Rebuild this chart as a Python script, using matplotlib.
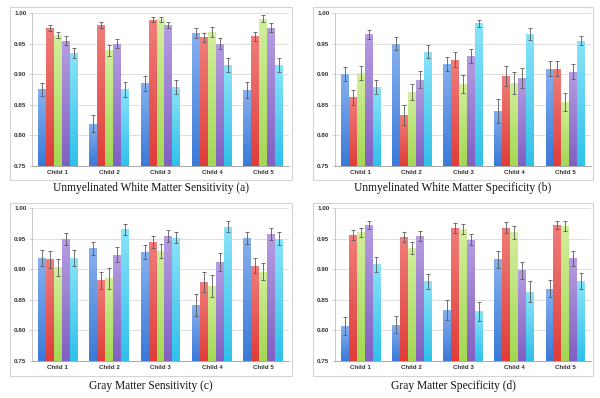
import numpy as np
import matplotlib
matplotlib.use("Agg")
import matplotlib.pyplot as plt
from matplotlib.patches import Rectangle
from matplotlib.colors import LinearSegmentedColormap

categories = ["Child 1", "Child 2", "Child 3", "Child 4", "Child 5"]
yticks = [0.75, 0.80, 0.85, 0.90, 0.95, 1.00]

# each list: 5 series (blue, red, green, purple, cyan) x 5 children
uwm_sens = [
    [0.875, 0.819, 0.885, 0.967, 0.874],
    [0.976, 0.980, 0.989, 0.960, 0.962],
    [0.964, 0.939, 0.990, 0.969, 0.991],
    [0.955, 0.950, 0.980, 0.950, 0.976],
    [0.935, 0.875, 0.879, 0.915, 0.915],
]
uwm_sens_err = [
    [0.011, 0.014, 0.012, 0.008, 0.013],
    [0.005, 0.005, 0.004, 0.008, 0.007],
    [0.005, 0.009, 0.004, 0.008, 0.005],
    [0.007, 0.008, 0.005, 0.009, 0.007],
    [0.008, 0.012, 0.011, 0.011, 0.011],
]
uwm_spec = [
    [0.900, 0.950, 0.917, 0.840, 0.909],
    [0.862, 0.833, 0.924, 0.897, 0.909],
    [0.902, 0.871, 0.884, 0.886, 0.855],
    [0.965, 0.891, 0.930, 0.894, 0.904],
    [0.879, 0.937, 0.983, 0.966, 0.955],
]
uwm_spec_err = [
    [0.011, 0.010, 0.011, 0.020, 0.012],
    [0.012, 0.016, 0.012, 0.016, 0.012],
    [0.012, 0.013, 0.015, 0.018, 0.015],
    [0.008, 0.014, 0.011, 0.016, 0.012],
    [0.012, 0.010, 0.006, 0.010, 0.008],
]
gm_sens = [
    [0.919, 0.934, 0.928, 0.841, 0.951],
    [0.916, 0.882, 0.945, 0.879, 0.906],
    [0.903, 0.885, 0.930, 0.873, 0.896],
    [0.949, 0.924, 0.954, 0.912, 0.957],
    [0.918, 0.965, 0.951, 0.969, 0.950],
]
gm_sens_err = [
    [0.013, 0.011, 0.011, 0.018, 0.010],
    [0.014, 0.014, 0.010, 0.017, 0.013],
    [0.014, 0.017, 0.011, 0.018, 0.014],
    [0.010, 0.013, 0.010, 0.015, 0.010],
    [0.013, 0.009, 0.009, 0.009, 0.010],
]
gm_spec = [
    [0.807, 0.809, 0.833, 0.916, 0.868],
    [0.956, 0.953, 0.967, 0.968, 0.972],
    [0.960, 0.935, 0.966, 0.960, 0.971],
    [0.972, 0.954, 0.948, 0.898, 0.918],
    [0.908, 0.880, 0.831, 0.863, 0.880],
]
gm_spec_err = [
    [0.015, 0.014, 0.016, 0.014, 0.014],
    [0.008, 0.008, 0.008, 0.009, 0.007],
    [0.008, 0.010, 0.008, 0.010, 0.008],
    [0.007, 0.008, 0.009, 0.014, 0.012],
    [0.012, 0.012, 0.016, 0.017, 0.013],
]
captions = [
    "Unmyelinated White Matter Sensitivity (a)",
    "Unmyelinated White Matter Specificity (b)",
    "Gray Matter Sensitivity (c)",
    "Gray Matter Specificity (d)",
]

# (top colour, bottom colour) for gradient fill
series_colors = [
    ("#86b0ee", "#3a7ad8"),
    ("#f07d7a", "#e03d39"),
    ("#d2ef9c", "#a3d853"),
    ("#b59de2", "#8160c2"),
    ("#8ae3f8", "#2fc1ea"),
]

fig = plt.figure(figsize=(6.0, 3.98), dpi=100)
W, H = 600.0, 398.0

frames = [(10, 7, 292, 180), (313, 7, 593, 180), (10, 203, 292, 376), (313, 203, 593, 376)]
plots = [(32, 13, 289, 166), (335, 13, 591, 166), (32, 208, 289, 361), (335, 208, 591, 361)]
cap_y = [188, 188, 386, 386]

datasets = [(uwm_sens, uwm_sens_err), (uwm_spec, uwm_spec_err),
            (gm_sens, gm_sens_err), (gm_spec, gm_spec_err)]

n_series = 5
bw = 0.155
x = np.arange(len(categories))

for k in range(4):
    fx0, fy0, fx1, fy1 = frames[k]
    fig.patches.append(Rectangle((fx0 / W, 1 - fy1 / H), (fx1 - fx0) / W, (fy1 - fy0) / H,
                                 transform=fig.transFigure, fill=False,
                                 edgecolor="#d4d4d4", linewidth=0.8))
    px0, py0, px1, py1 = plots[k]
    ax = fig.add_axes([px0 / W, 1 - py1 / H, (px1 - px0) / W, (py1 - py0) / H])
    vals, errs = datasets[k]
    for s in range(n_series):
        offs = x + (s - 2) * bw
        bars = ax.bar(offs, np.array(vals[s]) - 0.75, bw, bottom=0.75,
                      color=series_colors[s][1], linewidth=0, zorder=2)
        cmap = LinearSegmentedColormap.from_list("g%d" % s, [series_colors[s][1], series_colors[s][0]])
        for b in bars:
            bx, by, bwid, bh = b.get_x(), b.get_y(), b.get_width(), b.get_height()
            grad = np.linspace(0, 1, 64).reshape(-1, 1)
            im = ax.imshow(grad, extent=[bx, bx + bwid, by, by + bh], origin="lower",
                           aspect="auto", cmap=cmap, zorder=2.5)
            im.set_clip_path(b)
        ax.errorbar(offs, vals[s], yerr=errs[s], fmt="none", ecolor="#5a5a5a",
                    elinewidth=0.6, capsize=1.2, capthick=0.6, zorder=3)
    ax.set_xlim(-0.5, 4.5)
    ax.set_ylim(0.75, 1.0)
    ax.set_yticks(yticks)
    ax.set_yticklabels(["%.2f" % t for t in yticks])
    ax.set_xticks(x)
    ax.set_xticklabels(categories)
    ax.yaxis.grid(True, color="#d9d9d9", linewidth=0.6, zorder=0)
    ax.set_axisbelow(True)
    for sp in ["top", "right"]:
        ax.spines[sp].set_visible(False)
    ax.spines["left"].set_color("#bfbfbf")
    ax.spines["bottom"].set_color("#9a9a9a")
    ax.spines["left"].set_linewidth(0.6)
    ax.spines["bottom"].set_linewidth(0.6)
    ax.tick_params(axis="y", length=2, width=0.5, color="#bfbfbf", pad=2,
                   labelsize=4.5, labelcolor="#333333")
    ax.tick_params(axis="x", length=0, pad=3, labelsize=4.5, labelcolor="#333333")
    for lab in ax.get_xticklabels() + ax.get_yticklabels():
        lab.set_fontweight("bold")
        lab.set_family("Liberation Sans")
    cx = (fx0 + fx1) / 2.0 / W
    fig.text(cx, 1 - cap_y[k] / H, captions[k], ha="center", va="center",
             family="Liberation Serif", fontsize=8.3, color="#111111")

fig.savefig("out.png", dpi=100)
